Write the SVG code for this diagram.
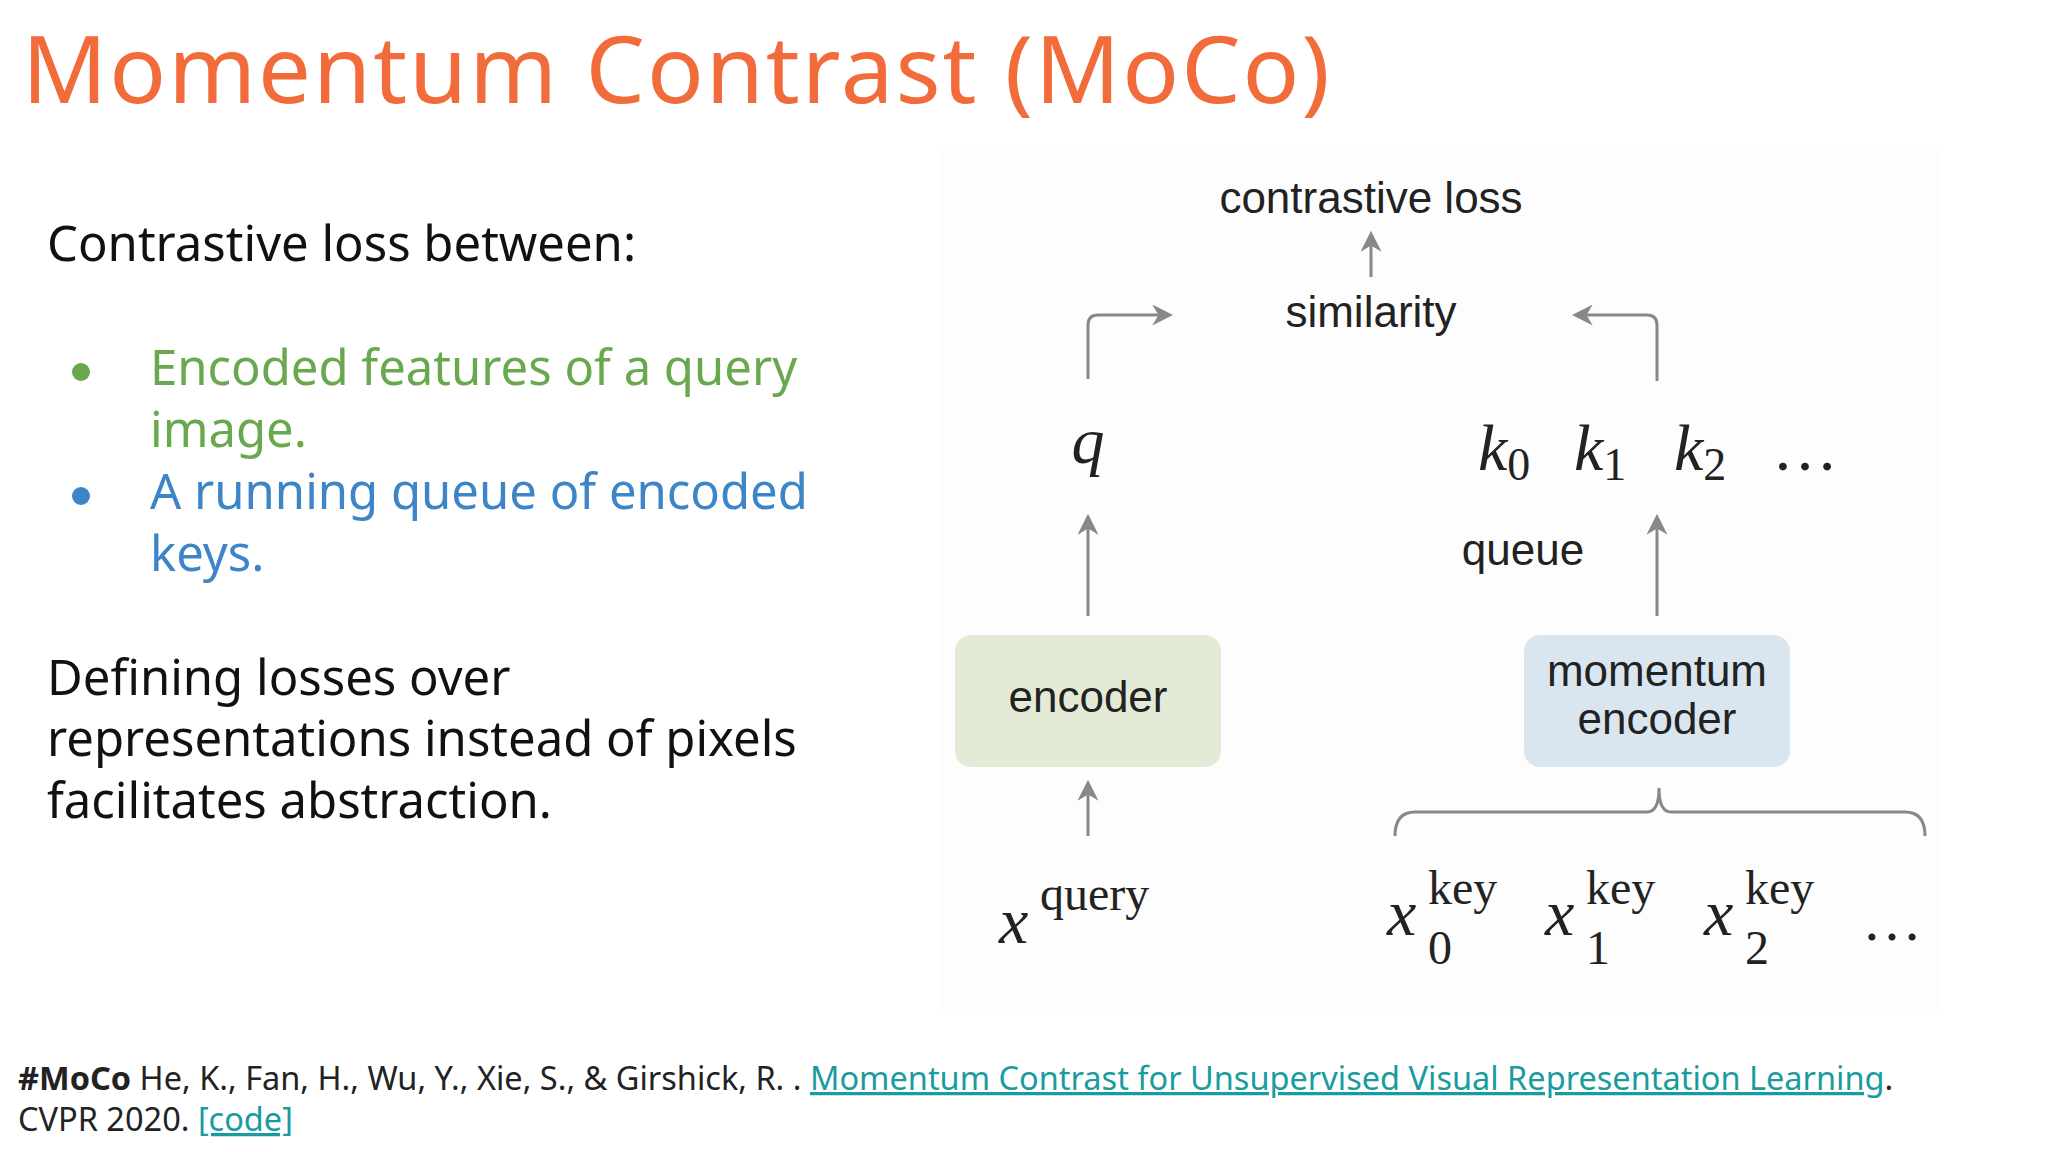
<svg xmlns="http://www.w3.org/2000/svg" width="2048" height="1152" viewBox="0 0 2048 1152">
<style>
.ui{font-family:"Noto Sans","Open Sans",sans-serif}
.sa{font-family:"Liberation Sans",Arial,sans-serif;fill:#222;font-size:44px}
.m{font-family:"Liberation Serif","DejaVu Serif",serif;fill:#222}
.mi{font-style:italic}
.ar{fill:none;stroke:#888;stroke-width:3}
.lk{fill:#1a9ba0;text-decoration:underline}
</style>
<defs>
<marker id="ah" viewBox="0 0 10 10" refX="8" refY="5" markerWidth="7" markerHeight="7" orient="auto"><path d="M0,0 L10,5 L0,10 L3,5 Z" fill="#888"/></marker>
</defs>
<rect width="2048" height="1152" fill="#fff"/>
<rect x="940" y="150" width="1000" height="860" fill="#fdfdfd"/>
<text class="ui" x="22" y="103" font-size="94" letter-spacing="2" fill="#f26b3a">Momentum Contrast (MoCo)</text>
<g class="ui" font-size="49">
<text x="47" y="261" fill="#111">Contrastive loss between:</text>
<circle cx="81" cy="372" r="9" fill="#6aa84f"/>
<text x="150" y="385" fill="#6aa84f">Encoded features of a query</text>
<text x="150" y="447" fill="#6aa84f">image.</text>
<circle cx="81" cy="496" r="9" fill="#3d85c6"/>
<text x="150" y="509" fill="#3d85c6">A running queue of encoded</text>
<text x="150" y="571" fill="#3d85c6">keys.</text>
<text x="47" y="695" fill="#111">Defining losses over</text>
<text x="47" y="756" fill="#111">representations instead of pixels</text>
<text x="47" y="818" fill="#111">facilitates abstraction.</text>
</g>
<g id="connectors">
<path class="ar" marker-end="url(#ah)" d="M1371,277 V235"/>
<path class="ar" marker-end="url(#ah)" d="M1088,379 V325 Q1088,315 1098,315 H1169"/>
<path class="ar" marker-end="url(#ah)" d="M1657,381 V325 Q1657,315 1647,315 H1576"/>
<path class="ar" marker-end="url(#ah)" d="M1088,616 V518"/>
<path class="ar" marker-end="url(#ah)" d="M1657,616 V518"/>
<path class="ar" marker-end="url(#ah)" d="M1088,836 V784"/>
<path class="ar" d="M1395,836 Q1395,812 1415,812 H1647 Q1659,812 1659,788 Q1659,812 1671,812 H1905 Q1925,812 1925,836"/>
</g>
<g id="loss"><text class="sa" x="1371" y="213" text-anchor="middle">contrastive loss</text></g>
<g id="sim"><text class="sa" x="1371" y="327" text-anchor="middle">similarity</text></g>
<g id="q"><text class="m mi" x="1088" y="463" font-size="66" text-anchor="middle">q</text></g>
<g id="keys" class="m" font-size="66">
<text x="1478" y="470"><tspan class="mi">k</tspan><tspan font-size="46" dy="10">0</tspan></text>
<text x="1574" y="470"><tspan class="mi">k</tspan><tspan font-size="46" dy="10">1</tspan></text>
<text x="1674" y="470"><tspan class="mi">k</tspan><tspan font-size="46" dy="10">2</tspan></text>
<text x="1772" y="470">…</text>
</g>
<g id="queue"><text class="sa" x="1523" y="565" text-anchor="middle">queue</text></g>
<g id="encoder"><rect x="955" y="635" width="266" height="132" rx="16" fill="#e3ebd6"/><text class="sa" font-size="40" x="1088" y="712" text-anchor="middle">encoder</text></g>
<g id="momentum"><rect x="1524" y="635" width="266" height="132" rx="16" fill="#dae6ef"/><text class="sa" font-size="40" x="1657" y="686" text-anchor="middle">momentum</text><text class="sa" font-size="40" x="1657" y="734" text-anchor="middle">encoder</text></g>
<g id="xq" class="m"><text class="mi" x="999" y="943" font-size="66">x</text><text x="1040" y="910" font-size="48">query</text></g>
<g id="xk" class="m">
<text class="mi" x="1387" y="935" font-size="66">x</text><text x="1428" y="904" font-size="48">key</text><text x="1428" y="964" font-size="48">0</text>
<text class="mi" x="1545" y="935" font-size="66">x</text><text x="1586" y="904" font-size="48">key</text><text x="1586" y="964" font-size="48">1</text>
<text class="mi" x="1704" y="935" font-size="66">x</text><text x="1745" y="904" font-size="48">key</text><text x="1745" y="964" font-size="48">2</text>
<text x="1862" y="940" font-size="60">…</text>
</g>
<g class="ui" font-size="32.5" fill="#222">
<text x="18" y="1090"><tspan font-weight="bold">#MoCo</tspan> He, K., Fan, H., Wu, Y., Xie, S., &amp; Girshick, R. . <tspan class="lk">Momentum Contrast for Unsupervised Visual Representation Learning</tspan>.</text>
<text x="18" y="1131">CVPR 2020. <tspan class="lk">[code]</tspan></text>
</g>
</svg>
